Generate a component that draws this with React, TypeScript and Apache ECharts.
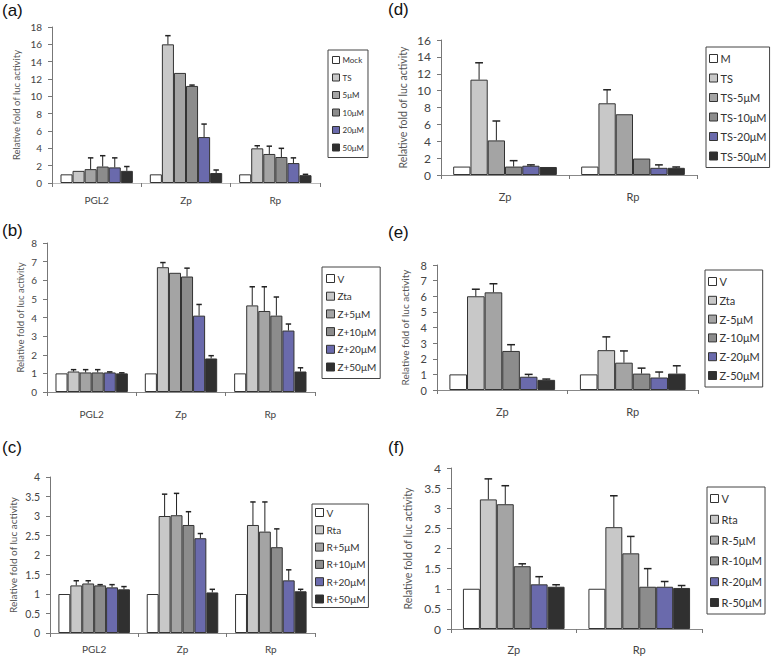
import React, { useEffect, useRef } from "react";
import * as echarts from "echarts";

// ---------- data ----------
const cats3 = ["PGL2", "Zp", "Rp"];
const cats2 = ["Zp", "Rp"];

const aNames = ["Mock", "TS", "5μM", "10μM", "20μM", "50μM"];
const aMeans = [
  [1, 1, 1],
  [1.4, 16.0, 4.0],
  [1.6, 12.7, 3.35],
  [1.9, 11.2, 3.0],
  [1.8, 5.3, 2.3],
  [1.4, 1.15, 0.9],
];
const aErrs = [
  [0, 0, 0],
  [0, 1.0, 0.3],
  [1.3, 0, 0.9],
  [1.25, 0.1, 1.0],
  [1.1, 1.5, 0.6],
  [0.5, 0.35, 0.1],
];

const bNames = ["V", "Zta", "Z+5μM", "Z+10μM", "Z+20μM", "Z+50μM"];
const bMeans = [
  [1, 1, 1],
  [1.1, 6.7, 4.65],
  [1.05, 6.4, 4.35],
  [1.05, 6.2, 4.1],
  [1.05, 4.1, 3.3],
  [1.0, 1.8, 1.1],
];
const bErrs = [
  [0, 0, 0],
  [0.1, 0.25, 1.0],
  [0.15, 0, 1.3],
  [0.15, 0.45, 1.0],
  [0.03, 0.6, 0.35],
  [0.03, 0.15, 0.2],
];

const cNames = ["V", "Rta", "R+5μM", "R+10μM", "R+20μM", "R+50μM"];
const cMeans = [
  [1, 1, 1],
  [1.22, 3.0, 2.77],
  [1.27, 3.02, 2.6],
  [1.22, 2.77, 2.2],
  [1.17, 2.43, 1.35],
  [1.12, 1.04, 1.07],
];
const cErrs = [
  [0, 0, 0],
  [0.12, 0.56, 0.59],
  [0.07, 0.56, 0.76],
  [0.02, 0.34, 0.47],
  [0.07, 0.12, 0.27],
  [0.07, 0.08, 0.05],
];

const dNames = ["M", "TS", "TS-5μM", "TS-10μM", "TS-20μM", "TS-50μM"];
const dMeans = [
  [1, 1],
  [11.3, 8.5],
  [4.1, 7.2],
  [1.0, 1.95],
  [1.1, 0.85],
  [0.95, 0.85],
];
const dErrs = [
  [0, 0],
  [2.0, 1.6],
  [2.3, 0],
  [0.7, 0],
  [0.1, 0.35],
  [0, 0.1],
];

const eNames = ["V", "Zta", "Z-5μM", "Z-10μM", "Z-20μM", "Z-50μM"];
const eMeans = [
  [1, 1],
  [6.0, 2.55],
  [6.25, 1.75],
  [2.5, 1.05],
  [0.85, 0.8],
  [0.65, 1.05],
];
const eErrs = [
  [0, 0],
  [0.45, 0.85],
  [0.55, 0.75],
  [0.4, 0.35],
  [0.15, 0.35],
  [0.05, 0.5],
];

const fNames = ["V", "Rta", "R-5μM", "R-10μM", "R-20μM", "R-50μM"];
const fMeans = [
  [1, 1],
  [3.22, 2.53],
  [3.1, 1.88],
  [1.56, 1.05],
  [1.11, 1.05],
  [1.05, 1.02],
];
const fErrs = [
  [0, 0],
  [0.51, 0.78],
  [0.46, 0.42],
  [0.06, 0.45],
  [0.19, 0.13],
  [0.05, 0.06],
];

const yName = "Relative fold of luc activity";
const colors = ["#ffffff", "#c8c8c8", "#a4a4a4", "#8c8c8c", "#6a6aac", "#303030"];
const GAP = 0.19;

// ---------- layout ----------
const panels = [
  { label: "(a)", lx: 2, ly: 2, cats: cats3, names: aNames, means: aMeans, errs: aErrs,
    grid: { left: 52, top: 27, width: 268, height: 156 }, max: 18, interval: 2,
    yFont: 10, xFont: 10, xMargin: 12, nameFont: 9.5, nameGap: 31, xLine: "#bbbbbb",
    legend: { left: 328, top: 50, font: 8, lh: 10, gap: 7.5, icon: 7, pad: [5, 4] } },
  { label: "(b)", lx: 2, ly: 222, cats: cats3, names: bNames, means: bMeans, errs: bErrs,
    grid: { left: 47, top: 243, width: 268, height: 149 }, max: 8, interval: 1,
    yFont: 10, xFont: 10, xMargin: 17, nameFont: 9.5, nameGap: 22, xLine: "#888888",
    legend: { left: 322, top: 267, font: 10, lh: 11, gap: 6.7, icon: 8, pad: [6, 4] } },
  { label: "(c)", lx: 2, ly: 439, cats: cats3, names: cNames, means: cMeans, errs: cErrs,
    grid: { left: 50, top: 477, width: 265, height: 156 }, max: 4, interval: 0.5,
    yFont: 10.5, xFont: 10, xMargin: 11, nameFont: 10, nameGap: 32, xLine: "#888888",
    legend: { left: 312, top: 504, font: 10, lh: 11, gap: 6.3, icon: 8, pad: [3, 3] } },
  { label: "(d)", lx: 388, ly: 1, cats: cats2, names: dNames, means: dMeans, errs: dErrs,
    grid: { left: 441, top: 40, width: 256, height: 135 }, max: 16, interval: 2,
    yFont: 12, xFont: 11, xMargin: 16, nameFont: 10.5, nameGap: 33, xLine: "#888888",
    legend: { left: 706, top: 47, font: 11, lh: 13, gap: 6.5, icon: 8, pad: [5, 3] } },
  { label: "(e)", lx: 388, ly: 224, cats: cats2, names: eNames, means: eMeans, errs: eErrs,
    grid: { left: 437, top: 265, width: 261, height: 125 }, max: 8, interval: 1,
    yFont: 11, xFont: 11, xMargin: 16, nameFont: 10, nameGap: 27, xLine: "#888888",
    legend: { left: 705, top: 270, font: 11, lh: 13, gap: 5.8, icon: 8, pad: [5, 3] } },
  { label: "(f)", lx: 388, ly: 439, cats: cats2, names: fNames, means: fMeans, errs: fErrs,
    grid: { left: 451, top: 468, width: 251, height: 161 }, max: 4, interval: 0.5,
    yFont: 12, xFont: 11, xMargin: 15, nameFont: 10.5, nameGap: 38, xLine: "#888888",
    legend: { left: 707, top: 487, font: 11, lh: 13, gap: 7.8, icon: 8, pad: [5, 3] } },
];

const FONT = "Lato, 'Open Sans', sans-serif";

function errRender(params: any, api: any) {
  const cat = api.value(0);
  const idx = api.value(1);
  const mean = api.value(2);
  const err = api.value(3);
  if (!err) return { type: "group", children: [] };
  const band = api.size([1, 0])[0];
  const total = band * (1 - GAP);
  const bw = total / 6;
  const c = api.coord([cat, mean]);
  const t = api.coord([cat, mean + err]);
  const x = c[0] - total / 2 + (idx + 0.5) * bw;
  const cap = bw * 0.45;
  return {
    type: "group",
    children: [
      { type: "line", shape: { x1: x, y1: c[1], x2: x, y2: t[1] }, style: { stroke: "#222", lineWidth: 1 } },
      { type: "line", shape: { x1: x - cap / 2, y1: t[1], x2: x + cap / 2, y2: t[1] }, style: { stroke: "#222", lineWidth: 1.5 } },
    ],
  };
}

function buildOption() {
  const grid: any[] = [];
  const xAxis: any[] = [];
  const yAxis: any[] = [];
  const legend: any[] = [];
  const series: any[] = [];
  const graphic: any[] = [];

  panels.forEach((p, k) => {
    grid.push({ ...p.grid, containLabel: false });
    xAxis.push({
      type: "category",
      gridIndex: k,
      data: p.cats,
      axisLine: { show: true, lineStyle: { color: p.xLine, width: 1 } },
      axisTick: { show: true, length: 4, lineStyle: { color: "#777" } },
      axisLabel: { fontSize: p.xFont, color: "#444", margin: p.xMargin, fontFamily: FONT },
    });
    yAxis.push({
      type: "value",
      gridIndex: k,
      min: 0,
      max: p.max,
      interval: p.interval,
      splitLine: { show: false },
      axisLine: { show: true, lineStyle: { color: "#777", width: 1 } },
      axisTick: { show: true, length: 4, lineStyle: { color: "#777" } },
      axisLabel: { fontSize: p.yFont, color: "#444", margin: 10, fontFamily: FONT },
      name: yName,
      nameLocation: "middle",
      nameRotate: 90,
      nameGap: p.nameGap,
      nameTextStyle: { fontSize: p.nameFont, color: "#555", fontFamily: FONT },
    });
    legend.push({
      orient: "vertical",
      left: p.legend.left,
      top: p.legend.top,
      data: p.names,
      icon: "rect",
      itemWidth: p.legend.icon,
      itemHeight: p.legend.icon,
      itemGap: p.legend.gap,
      padding: p.legend.pad,
      borderColor: "#444",
      borderWidth: 1,
      selectedMode: false,
      itemStyle: { borderColor: "#333", borderWidth: 1 },
      textStyle: { fontSize: p.legend.font, lineHeight: p.legend.lh, color: "#333", fontFamily: FONT, padding: [0, 0, 0, -2] },
    });
    p.names.forEach((name, i) => {
      series.push({
        type: "bar",
        name,
        xAxisIndex: k,
        yAxisIndex: k,
        data: p.means[i],
        barGap: "0%",
        barCategoryGap: GAP * 100 + "%",
        itemStyle: { color: colors[i], borderColor: "#333", borderWidth: 1 },
        emphasis: { disabled: true },
      });
    });
    const errData: number[][] = [];
    p.names.forEach((_, i) => {
      p.cats.forEach((_, j) => {
        errData.push([j, i, p.means[i][j], p.errs[i][j]]);
      });
    });
    series.push({
      type: "custom",
      name: "err" + k,
      xAxisIndex: k,
      yAxisIndex: k,
      renderItem: errRender,
      data: errData,
      encode: { x: 0, y: 2 },
      z: 5,
      silent: true,
    });
    graphic.push({
      type: "text",
      left: p.lx,
      top: p.ly,
      style: { text: p.label, fontSize: 17, fill: "#111", fontFamily: "'Liberation Sans', Arial, sans-serif" },
    });
  });

  return {
    animation: false,
    backgroundColor: "#ffffff",
    grid,
    xAxis,
    yAxis,
    legend,
    series,
    graphic,
  };
}

export default function App() {
  const ref = useRef<HTMLDivElement>(null);
  useEffect(() => {
    if (!ref.current) return;
    const chart = echarts.init(ref.current, undefined, { renderer: "svg" });
    chart.setOption(buildOption() as any);
    return () => chart.dispose();
  }, []);
  return (
    <div
      ref={ref}
      style={{ position: "absolute", left: 0, top: 0, width: 778, height: 661 }}
    />
  );
}
